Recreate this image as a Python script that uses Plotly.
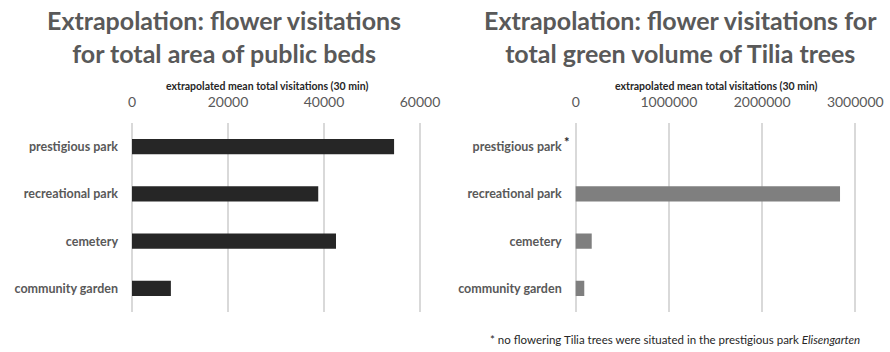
import plotly.graph_objects as go

categories = ["prestigious park", "recreational park", "cemetery", "community garden"]
beds_visits = [54600, 38800, 42500, 8100]
tilia_visits = [None, 2836000, 172000, 92000]
beds_ticks = [0, 20000, 40000, 60000]
tilia_ticks = [0, 1000000, 2000000, 3000000]

FONT = "Lato"
GRAY = "#595959"

fig = go.Figure()
fig.add_trace(go.Bar(y=categories, x=beds_visits, orientation="h",
                     marker=dict(color="#262626", line=dict(width=0)),
                     xaxis="x", yaxis="y", showlegend=False))
fig.add_trace(go.Bar(y=categories, x=tilia_visits, orientation="h",
                     marker=dict(color="#7f7f7f", line=dict(width=0)),
                     xaxis="x2", yaxis="y2", showlegend=False))

ydom = [1 - 312 / 352, 1 - 123 / 352]
xcommon = dict(side="top", showgrid=True, gridcolor="#d9d9d9", gridwidth=1.5,
               zeroline=False, showline=False, ticks="", tickformat="d",
               tickfont=dict(family=FONT, size=14, color=GRAY),
               ticklabelstandoff=12, automargin=False)
ycommon = dict(categoryorder="array", categoryarray=categories, autorange="reversed",
               showgrid=False, zeroline=False, showline=False, ticks="",
               tickfont=dict(family=FONT, size=12.5, color=GRAY, weight="bold"),
               ticklabelstandoff=11, automargin=False)

# small padding so gridlines at range ends are drawn
p1 = 60000 * 2 / 288
p2 = 3000000 * 2 / 279.6

fig.update_layout(
    width=890, height=352, margin=dict(l=0, r=0, t=0, b=0, autoexpand=False),
    paper_bgcolor="white", plot_bgcolor="white", bargap=0.68,
    xaxis=dict(domain=[130 / 890, 422 / 890], range=[-p1, 60000 + p1], tickvals=beds_ticks,
               anchor="y", **xcommon),
    yaxis=dict(domain=ydom, anchor="x", **ycommon),
    xaxis2=dict(domain=[573.7 / 890, 857.3 / 890], range=[-p2, 3000000 + p2], tickvals=tilia_ticks,
                anchor="y2", **xcommon),
    yaxis2=dict(domain=ydom, anchor="x2", **ycommon),
)

def px_y(py):
    return 1 - py / 352

ann = [
    dict(text="<b>Extrapolation: flower visitations<br>for total area of public beds</b>",
         x=224 / 890, y=px_y(36), font=dict(family=FONT, size=25, color=GRAY)),
    dict(text="<b>Extrapolation: flower visitations for<br>total green volume of Tilia trees</b>",
         x=680 / 890, y=px_y(36), font=dict(family=FONT, size=25, color=GRAY)),
    dict(text="<b>extrapolated mean total visitations (30 min)</b>",
         x=267 / 890, y=px_y(86), font=dict(family=FONT, size=10.5, color="#262626")),
    dict(text="<b>extrapolated mean total visitations (30 min)</b>",
         x=716 / 890, y=px_y(86), font=dict(family=FONT, size=10.5, color="#262626")),
    dict(text="* no flowering Tilia trees were situated in the prestigious park <i>Elisengarten</i>",
         x=675 / 890, y=px_y(339), font=dict(family=FONT, size=11.5, color="#262626")),
    dict(text="<b>*</b>", x=566.5 / 890, y=px_y(142), font=dict(family=FONT, size=13, color="#262626")),
]
for a in ann:
    fig.add_annotation(xref="paper", yref="paper", showarrow=False,
                       xanchor="center", yanchor="middle", align="center", **a)

fig.write_html("out.html")
